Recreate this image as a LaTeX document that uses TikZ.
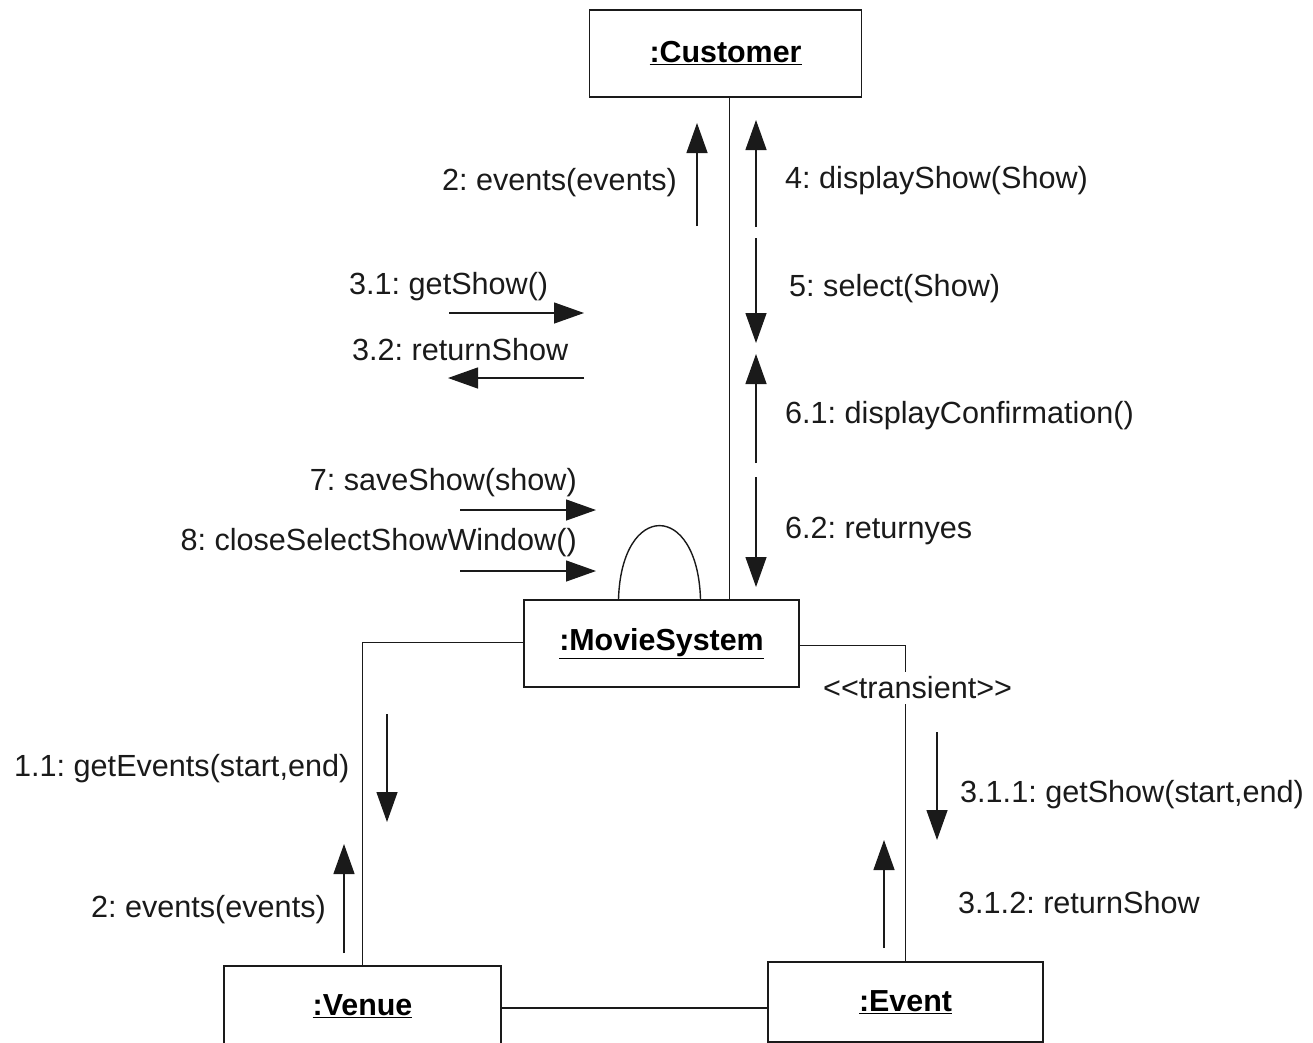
\documentclass[tikz,border=0pt]{standalone}
\usepackage{fontspec}
\setmainfont{Liberation Sans}
\definecolor{inkLine}{HTML}{1A1A1A}
\usepackage{tikz}
\usetikzlibrary{calc, positioning, arrows.meta}
\usepackage{xcolor}
\frenchspacing
\tikzset{
  objBox/.style={draw=inkLine, line width=1.8pt, minimum width=272pt, minimum height=87pt, inner sep=0pt, font=\fontsize{30.4}{36}\selectfont\bfseries},
  linkLine/.style={draw=inkLine, line width=1.4pt},
  msgArrow/.style={draw=inkLine, line width=1.3pt, -{Triangle[length=30pt,width=21pt]}},
  msgLabel/.style={inner sep=0pt, text=inkLine, font=\fontsize{30.6}{36}\selectfont}
}
\begin{document}
\begin{tikzpicture}[x=1pt, y=-1pt]
        \useasboundingbox (0,0) rectangle (1313,1042);
        \clip (0,0) rectangle (1313,1042);
        \fill[white] (0,0) rectangle (1313,1042);

        \node[objBox] (cust) at (725.5,53.5) {\underline{:Customer}};
        \node[objBox, minimum width=275pt] (ms) at (661.5,643.5) {\underline{:MovieSystem}};
        \node[objBox, minimum width=277pt, minimum height=80pt] (venue) at (362.5,1006) {\underline{:Venue}};
        \node[objBox, minimum width=275pt, minimum height=80pt] (event) at (905.5,1002) {\underline{:Event}};

        \draw[linkLine] ([xshift=4pt]cust.south) -- ([xshift=4pt]cust.south |- ms.north);
        \draw[linkLine] ([yshift=1pt]ms.west) -| (venue.north);
        \draw[linkLine] ([yshift=-2pt]ms.east) -| (event.north);
        \draw[linkLine] ([yshift=-2pt]venue.east) -- ([yshift=-2pt]venue.east -| event.west);
        \draw[linkLine] ([xshift=-43pt]ms.north) .. controls ([xshift=-40pt,yshift=98pt]ms.north) and ([xshift=36pt,yshift=98pt]ms.north) .. ([xshift=39pt]ms.north);

        \coordinate (evUpA) at (697,226);  \coordinate (evUpB) at (697,123);
        \coordinate (dispA) at (756,227);  \coordinate (dispB) at (756,120);
        \coordinate (selA) at (756,238);   \coordinate (selB) at (756,343);
        \coordinate (confA) at (756,463);  \coordinate (confB) at (756,354);
        \coordinate (yesA) at (756,477);   \coordinate (yesB) at (756,587);
        \coordinate (gsA) at (449,313);    \coordinate (gsB) at (584,313);
        \coordinate (rsA) at (584,378);    \coordinate (rsB) at (448,378);
        \coordinate (saveA) at (460,510);  \coordinate (saveB) at (596,510);
        \coordinate (closeA) at (460,571); \coordinate (closeB) at (596,571);
        \coordinate (geA) at (387,714);    \coordinate (geB) at (387,822);
        \coordinate (vevA) at (344,953);   \coordinate (vevB) at (344,844);
        \coordinate (gseA) at (937,732);   \coordinate (gseB) at (937,840);
        \coordinate (rseA) at (884,948);   \coordinate (rseB) at (884,840);

        \draw[msgArrow] (evUpA) -- (evUpB);
        \draw[msgArrow] (dispA) -- (dispB);
        \draw[msgArrow] (selA) -- (selB);
        \draw[msgArrow] (confA) -- (confB);
        \draw[msgArrow] (yesA) -- (yesB);
        \draw[msgArrow] (gsA) -- (gsB);
        \draw[msgArrow] (rsA) -- (rsB);
        \draw[msgArrow] (saveA) -- (saveB);
        \draw[msgArrow] (closeA) -- (closeB);
        \draw[msgArrow] (geA) -- (geB);
        \draw[msgArrow] (vevA) -- (vevB);
        \draw[msgArrow] (gseA) -- (gseB);
        \draw[msgArrow] (rseA) -- (rseB);

        \node[msgLabel, anchor=east] (lEvUp) at (677,183) {2: events(events)};
        \node[msgLabel, anchor=west] (lDisp) at (785,181) {4: displayShow(Show)};
        \node[msgLabel, anchor=west] (lSel) at (789,289) {5: select(Show)};
        \node[msgLabel, anchor=west] (lConf) at (785,416) {6.1: displayConfirmation()};
        \node[msgLabel, anchor=west] (lYes) at (785,531) {6.2: returnyes};
        \node[msgLabel, anchor=west] (lGs) at (349,287) {3.1: getShow()};
        \node[msgLabel, anchor=west] (lRs) at (352,350) {3.2: returnShow};
        \node[msgLabel, anchor=east] (lSave) at (577,483) {7: saveShow(show)};
        \node[msgLabel, anchor=east] (lClose) at (577,543) {8: closeSelectShowWindow()};
        \node[msgLabel, anchor=west] (lGe) at (14,769) {1.1: getEvents(start,end)};
        \node[msgLabel, anchor=east] (lVev) at (326,910) {2: events(events)};
        \node[msgLabel, anchor=west, fill=white, inner ysep=5pt, inner xsep=0pt] (lTrans) at (823,688) {<{}<transient>{}>};
        \node[msgLabel, anchor=west] (lGse) at (960,795) {3.1.1: getShow(start,end)};
        \node[msgLabel, anchor=west] (lRse) at (958,903) {3.1.2: returnShow};
      \end{tikzpicture}
\end{document}
